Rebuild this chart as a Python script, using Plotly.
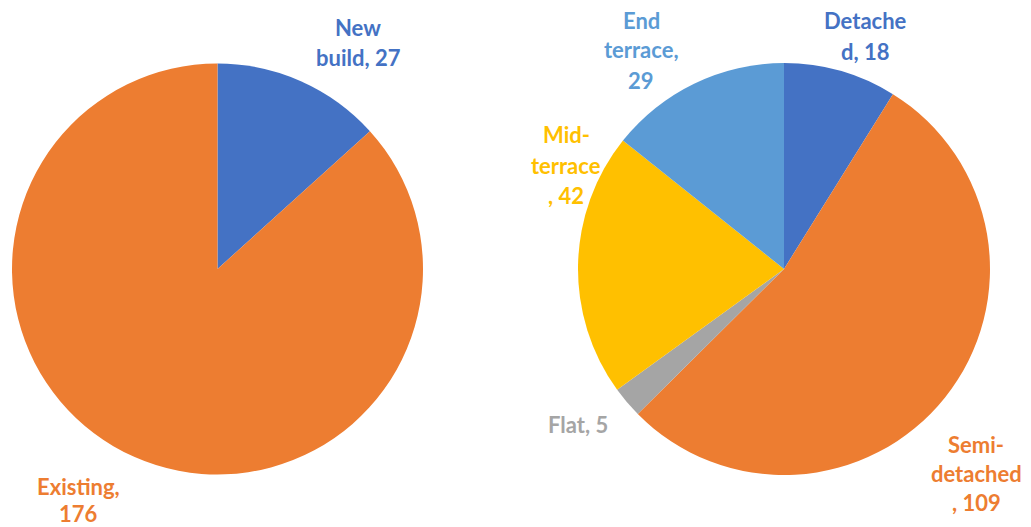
import plotly.graph_objects as go

# Data
left_labels = ["New build", "Existing"]
left_values = [27, 176]
left_colors = ["#4472C4", "#ED7D31"]

right_labels = ["Detached", "Semi-detached", "Flat", "Mid-terrace", "End terrace"]
right_values = [18, 109, 5, 42, 29]
right_colors = ["#4472C4", "#ED7D31", "#A5A5A5", "#FFC000", "#5B9BD5"]

W, H = 1031, 527

fig = go.Figure()
fig.add_trace(go.Pie(
    labels=left_labels, values=left_values, sort=False, direction="clockwise",
    rotation=0, textinfo="none", hoverinfo="label+value",
    marker=dict(colors=left_colors, line=dict(width=0)),
    domain=dict(x=[12 / W, 423 / W], y=[1 - 475 / H, 1 - 63 / H]),
))
fig.add_trace(go.Pie(
    labels=right_labels, values=right_values, sort=False, direction="clockwise",
    rotation=0, textinfo="none", hoverinfo="label+value",
    marker=dict(colors=right_colors, line=dict(width=0)),
    domain=dict(x=[578 / W, 990 / W], y=[1 - 475 / H, 1 - 63 / H]),
))

# label lines: (lines, center x px, first line y px, line step px, color)
label_specs = [
    ([left_labels[0].split(" ")[0], "build, " + str(left_values[0])], 358, 27, 30, left_colors[0]),
    (["Existing,", str(left_values[1])], 78, 486, 27, left_colors[1]),
    (["Detache", "d, " + str(right_values[0])], 865, 21, 30, right_colors[0]),
    (["Semi-", "detached", ", " + str(right_values[1])], 976, 444, 29, right_colors[1]),
    (["Flat, " + str(right_values[2])], 578, 424, 30, right_colors[2]),
    (["Mid-", "terrace", ", " + str(right_values[3])], 566, 135, 30, right_colors[3]),
    (["End", "terrace,", str(right_values[4])], 641, 20, 30, right_colors[4]),
]
for lines, cx, y0, step, col in label_specs:
    for i, line in enumerate(lines):
        fig.add_annotation(
            x=cx / W, y=1 - (y0 + i * step) / H, xref="paper", yref="paper",
            text="<b>" + line + "</b>", showarrow=False,
            xanchor="center", yanchor="middle",
            font=dict(family="Lato", size=22, color=col),
        )

fig.update_layout(
    width=W, height=H, margin=dict(l=0, r=0, t=0, b=0),
    paper_bgcolor="white", plot_bgcolor="white", showlegend=False,
)
fig.write_html("out.html", config={"displayModeBar": False},
               post_script="document.body.style.margin='0px';document.body.style.overflow='hidden';")
